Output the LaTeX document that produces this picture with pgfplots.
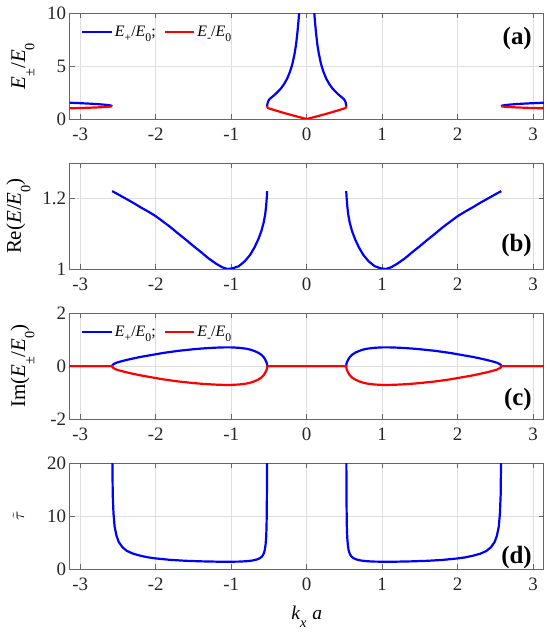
\documentclass[border=0pt]{standalone}
\usepackage{graphicx}
\usepackage{pgfplots}
\pgfplotsset{compat=1.18}
\usepackage{fontspec}
\setmainfont{Liberation Serif}
\newcommand\lsub[1]{\raisebox{-0.34em}{\scalebox{0.74}{#1}}}
\newcommand\ysub[1]{\raisebox{-0.45em}{\scalebox{0.68}{#1}}}
\newcommand\xsub[1]{\raisebox{-0.45em}{\scalebox{0.74}{#1}}}

\tikzset{plab/.style={anchor=east, inner sep=0pt, font=\fontsize{25}{25}\selectfont\bfseries}}
\pgfplotsset{
  myax/.style={
    scale only axis, width=474.2bp, height=105.7bp,
    xmin=-3.14159, xmax=3.14159,
    xtick={-3,-2,-1,0,1,2,3},
    grid=major, grid style={line width=0.6bp, black!13},
    axis line style={line width=0.9bp, black!60},
    tick style={line width=0.9bp, black!60},
    major tick length=5bp,
    tick align=inside,
    /pgf/number format/assume math mode=true,
    tick label style={font=\fontsize{19}{19}\selectfont, black!85},
    xticklabel style={yshift=-5bp},
    label style={font=\fontsize{21}{21}\selectfont},
    every axis plot/.append style={line width=2.2bp},
    legend image code/.code={\draw[#1] (0bp,0bp) -- (29.5bp,0bp);},
  },
  mylegend/.style={legend style={draw=none, fill=none, at={(rel axis cs:0.024,0.826)}, anchor=west,
      font=\fontsize{16}{16}\selectfont, inner sep=0pt,
      /tikz/every odd column/.style={column sep=2bp},
      /tikz/every even column/.style={column sep=8bp},
      nodes={inner sep=0pt}}, legend columns=-1},
}

\begin{document}
\begin{tikzpicture}
\useasboundingbox (0,0) rectangle (550bp,634bp);

%% (a)
\begin{axis}[myax, at={(69.6bp,515bp)}, anchor=south west,
  ymin=0, ymax=10, ytick={0,5,10}, mylegend,
  ylabel={\textit{E}\ysub{±}/\textit{E}\ysub{0}},
  ylabel style={at={(axis description cs:-0.094,0.5)}, anchor=base}]
\addlegendimage{blue, line width=2.2bp}
\addlegendentry{\textit{E}\lsub{+}/\textit{E}\lsub{0};}
\addlegendimage{red, line width=2.2bp}
\addlegendentry{\textit{E}\lsub{-}/\textit{E}\lsub{0}}
\addplot[blue, forget plot] coordinates {(-3.1416,1.54) (-2.98,1.49) (-2.88,1.454) (-2.78,1.412) (-2.68,1.354) (-2.63,1.316) (-2.60,1.28) (-2.59,1.263) (-2.583,1.245) (-2.58,1.22)};
\addplot[red, forget plot] coordinates {(-3.1416,1.01) (-2.98,1.043) (-2.88,1.067) (-2.78,1.094) (-2.68,1.132) (-2.63,1.157) (-2.60,1.175) (-2.59,1.192) (-2.583,1.205) (-2.58,1.22)};
\addplot[blue, forget plot] coordinates {(3.1416,1.54) (2.98,1.49) (2.88,1.454) (2.78,1.412) (2.68,1.354) (2.63,1.316) (2.60,1.28) (2.59,1.263) (2.583,1.245) (2.58,1.22)};
\addplot[red, forget plot] coordinates {(3.1416,1.01) (2.98,1.043) (2.88,1.067) (2.78,1.094) (2.68,1.132) (2.63,1.157) (2.60,1.175) (2.59,1.192) (2.583,1.205) (2.58,1.22)};
\addplot[blue, forget plot] coordinates {(-0.524,1.22) (-0.521,1.40) (-0.515,1.58) (-0.505,1.75) (-0.49,1.90) (-0.46,2.08) (-0.42,2.32) (-0.38,2.6) (-0.34,2.9) (-0.30,3.3) (-0.26,3.8) (-0.22,4.5) (-0.19,5.2) (-0.16,6.2) (-0.14,7.1) (-0.12,8.4) (-0.105,9.6) (-0.095,10.6)};
\addplot[blue, forget plot] coordinates {(0.524,1.22) (0.521,1.40) (0.515,1.58) (0.505,1.75) (0.49,1.90) (0.46,2.08) (0.42,2.32) (0.38,2.6) (0.34,2.9) (0.30,3.3) (0.26,3.8) (0.22,4.5) (0.19,5.2) (0.16,6.2) (0.14,7.1) (0.12,8.4) (0.105,9.6) (0.095,10.6)};
\addplot[red, forget plot] coordinates {(-0.524,1.22) (-0.521,1.12) (-0.515,1.05) (-0.5,1.0) (-0.45,0.89) (-0.4,0.78) (-0.3,0.57) (-0.2,0.37) (-0.1,0.18) (0,0) (0.1,0.18) (0.2,0.37) (0.3,0.57) (0.4,0.78) (0.45,0.89) (0.5,1.0) (0.515,1.05) (0.521,1.12) (0.524,1.22)};
\node[plab] at (rel axis cs:0.975,0.763) {(a)};
\end{axis}

%% (b)
\begin{axis}[myax, at={(69.6bp,365bp)}, anchor=south west,
  ymin=1, ymax=1.3, ytick={1,1.2},
  ylabel={Re(\textit{E}/\textit{E}\ysub{0})},
  ylabel style={at={(axis description cs:-0.1025,0.5)}, anchor=base}]
\addplot[blue] coordinates {(-2.578,1.221) (-2.5,1.212) (-2.4,1.200) (-2.3,1.188) (-2.2,1.175) (-2.1,1.163) (-2.0,1.150) (-1.9,1.134) (-1.8,1.118) (-1.7,1.100) (-1.6,1.083) (-1.5,1.065) (-1.4,1.048) (-1.3,1.030) (-1.2,1.015) (-1.12,1.005) (-1.05,1.000) (-0.98,1.002) (-0.9,1.008) (-0.82,1.022) (-0.75,1.040) (-0.69,1.062) (-0.64,1.085) (-0.6,1.108) (-0.57,1.132) (-0.55,1.155) (-0.537,1.18) (-0.528,1.205) (-0.524,1.221)};
\addplot[blue] coordinates {(2.578,1.221) (2.5,1.212) (2.4,1.200) (2.3,1.188) (2.2,1.175) (2.1,1.163) (2.0,1.150) (1.9,1.134) (1.8,1.118) (1.7,1.100) (1.6,1.083) (1.5,1.065) (1.4,1.048) (1.3,1.030) (1.2,1.015) (1.12,1.005) (1.05,1.000) (0.98,1.002) (0.9,1.008) (0.82,1.022) (0.75,1.040) (0.69,1.062) (0.64,1.085) (0.6,1.108) (0.57,1.132) (0.55,1.155) (0.537,1.18) (0.528,1.205) (0.524,1.221)};
\node[plab] at (rel axis cs:0.975,0.223) {(b)};
\end{axis}

%% (c)
\begin{axis}[myax, at={(69.6bp,215bp)}, anchor=south west,
  ymin=-2, ymax=2, ytick={-2,0,2}, mylegend,
  ylabel={Im(\textit{E}\ysub{±}/\textit{E}\ysub{0})},
  ylabel style={at={(axis description cs:-0.094,0.5)}, anchor=base}]
\addlegendimage{blue, line width=2.2bp}
\addlegendentry{\textit{E}\lsub{+}/\textit{E}\lsub{0};}
\addlegendimage{red, line width=2.2bp}
\addlegendentry{\textit{E}\lsub{-}/\textit{E}\lsub{0}}
\addplot[blue, forget plot] coordinates {(-3.1416,0) (-2.578,0) (-2.574,0.035) (-2.565,0.06) (-2.55,0.09) (-2.52,0.13) (-2.48,0.165) (-2.44,0.195) (-2.4,0.225) (-2.3,0.29) (-2.2,0.35) (-2.1,0.40) (-2.0,0.45) (-1.9,0.50) (-1.8,0.54) (-1.7,0.58) (-1.6,0.61) (-1.5,0.64) (-1.4,0.665) (-1.3,0.685) (-1.2,0.70) (-1.1,0.71) (-1.0,0.71) (-0.9,0.695) (-0.8,0.66) (-0.74,0.62) (-0.7,0.58) (-0.65,0.52) (-0.6,0.43) (-0.57,0.34) (-0.55,0.25) (-0.535,0.16) (-0.528,0.10) (-0.5255,0.06) (-0.524,0) (0.524,0) (0.5255,0.06) (0.528,0.10) (0.535,0.16) (0.55,0.25) (0.57,0.34) (0.6,0.43) (0.65,0.52) (0.7,0.58) (0.74,0.62) (0.8,0.66) (0.9,0.695) (1.0,0.71) (1.1,0.71) (1.2,0.70) (1.3,0.685) (1.4,0.665) (1.5,0.64) (1.6,0.61) (1.7,0.58) (1.8,0.54) (1.9,0.50) (2.0,0.45) (2.1,0.40) (2.2,0.35) (2.3,0.29) (2.4,0.225) (2.44,0.195) (2.48,0.165) (2.52,0.13) (2.55,0.09) (2.565,0.06) (2.574,0.035) (2.578,0) (3.1416,0)};
\addplot[red, forget plot] coordinates {(-3.1416,0) (-2.578,0) (-2.574,-0.035) (-2.565,-0.06) (-2.55,-0.09) (-2.52,-0.13) (-2.48,-0.165) (-2.44,-0.195) (-2.4,-0.225) (-2.3,-0.29) (-2.2,-0.35) (-2.1,-0.40) (-2.0,-0.45) (-1.9,-0.50) (-1.8,-0.54) (-1.7,-0.58) (-1.6,-0.61) (-1.5,-0.64) (-1.4,-0.665) (-1.3,-0.685) (-1.2,-0.70) (-1.1,-0.71) (-1.0,-0.71) (-0.9,-0.695) (-0.8,-0.66) (-0.74,-0.62) (-0.7,-0.58) (-0.65,-0.52) (-0.6,-0.43) (-0.57,-0.34) (-0.55,-0.25) (-0.535,-0.16) (-0.528,-0.10) (-0.5255,-0.06) (-0.524,0) (0.524,0) (0.5255,-0.06) (0.528,-0.10) (0.535,-0.16) (0.55,-0.25) (0.57,-0.34) (0.6,-0.43) (0.65,-0.52) (0.7,-0.58) (0.74,-0.62) (0.8,-0.66) (0.9,-0.695) (1.0,-0.71) (1.1,-0.71) (1.2,-0.70) (1.3,-0.685) (1.4,-0.665) (1.5,-0.64) (1.6,-0.61) (1.7,-0.58) (1.8,-0.54) (1.9,-0.50) (2.0,-0.45) (2.1,-0.40) (2.2,-0.35) (2.3,-0.29) (2.4,-0.225) (2.44,-0.195) (2.48,-0.165) (2.52,-0.13) (2.55,-0.09) (2.565,-0.06) (2.574,-0.035) (2.578,0) (3.1416,0)};
\node[plab] at (rel axis cs:0.975,0.185) {(c)};
\end{axis}

%% (d)
\begin{axis}[myax, at={(69.6bp,65bp)}, anchor=south west,
  ymin=0, ymax=20, ytick={0,10,20},
  ylabel={\fontsize{17}{17}\selectfont$\tilde{\tau}$},
  ylabel style={at={(axis description cs:-0.096,0.5)}, anchor=base},
  xlabel={\textit{k}\xsub{\textit{x}}\hspace{0.3em}\textit{a}},
  xlabel style={at={(axis description cs:0.5,0)}, anchor=base, yshift=-50bp, font=\fontsize{19.5}{19.5}\selectfont}]
\addplot[blue] coordinates {(-2.5775,26) (-2.575,20.5) (-2.57,14) (-2.56,10.5) (-2.545,8.0) (-2.52,6.3) (-2.49,5.1) (-2.44,4.1) (-2.38,3.4) (-2.3,2.9) (-2.2,2.5) (-2.1,2.2) (-2.0,2.0) (-1.8,1.72) (-1.6,1.55) (-1.4,1.45) (-1.2,1.39) (-1.05,1.37) (-0.9,1.40) (-0.8,1.47) (-0.72,1.6) (-0.66,1.8) (-0.62,2.05) (-0.59,2.4) (-0.57,2.9) (-0.555,3.6) (-0.545,4.6) (-0.537,6.0) (-0.532,8.0) (-0.529,11) (-0.527,15) (-0.5255,20.5) (-0.525,26)};
\addplot[blue] coordinates {(2.5775,26) (2.575,20.5) (2.57,14) (2.56,10.5) (2.545,8.0) (2.52,6.3) (2.49,5.1) (2.44,4.1) (2.38,3.4) (2.3,2.9) (2.2,2.5) (2.1,2.2) (2.0,2.0) (1.8,1.72) (1.6,1.55) (1.4,1.45) (1.2,1.39) (1.05,1.37) (0.9,1.40) (0.8,1.47) (0.72,1.6) (0.66,1.8) (0.62,2.05) (0.59,2.4) (0.57,2.9) (0.555,3.6) (0.545,4.6) (0.537,6.0) (0.532,8.0) (0.529,11) (0.527,15) (0.5255,20.5) (0.525,26)};
\node[plab] at (rel axis cs:0.975,0.113) {(d)};
\end{axis}
\end{tikzpicture}
\end{document}
